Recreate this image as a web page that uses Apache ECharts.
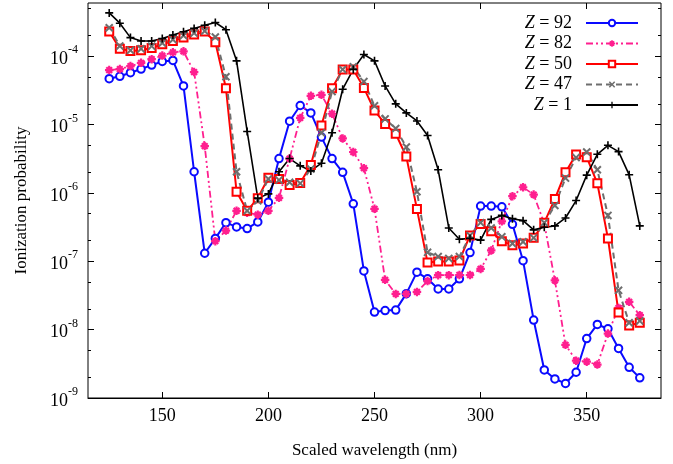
<!DOCTYPE html>
<html><head><meta charset="utf-8">
<script src="https://cdn.jsdelivr.net/npm/echarts@6/dist/echarts.min.js"></script>
<style>html,body{margin:0;padding:0;background:#fff}#c{width:673px;height:464px}</style>
</head><body><div id="c"></div>
<script>
const wavelengths = [125,130,135,140,145,150,155,160,165,170,175,180,185,190,195,200,205,210,215,220,225,230,235,240,245,250,255,260,265,270,275,280,285,290,295,300,305,310,315,320,325,330,335,340,345,350,355,360,365,370,375];
const z92 = [4.69e-5,5.08e-5,5.73e-5,6.49e-5,7.41e-5,8.38e-5,8.67e-5,3.67e-5,2.04e-6,1.31e-7,2.16e-7,3.67e-7,3.18e-7,3.01e-7,3.76e-7,7.33e-7,3.18e-6,1.12e-5,1.90e-5,1.48e-5,6.55e-6,3.18e-6,2.00e-6,6.93e-7,7.22e-8,1.81e-8,1.90e-8,1.93e-8,3.36e-8,6.93e-8,5.54e-8,3.93e-8,3.93e-8,5.54e-8,1.34e-7,6.41e-7,6.41e-7,6.27e-7,3.47e-7,1.02e-7,1.38e-8,2.57e-9,1.90e-9,1.63e-9,2.38e-9,7.41e-9,1.19e-8,1.03e-8,5.31e-9,2.81e-9,1.97e-9];
const z82 = [6.27e-5,6.49e-5,7.16e-5,8.00e-5,9.05e-5,1.02e-4,1.14e-4,1.18e-4,5.86e-5,4.85e-6,1.97e-7,2.81e-7,5.48e-7,5.13e-7,4.80e-7,5.48e-7,8.47e-7,3.18e-6,1.25e-5,2.63e-5,2.72e-5,1.44e-5,6.27e-6,3.97e-6,2.30e-6,5.86e-7,5.36e-8,3.33e-8,3.33e-8,3.56e-8,5.13e-8,6.27e-8,6.27e-8,6.3e-8,6.3e-8,7.73e-8,1.44e-7,3.84e-7,8.95e-7,1.21e-6,9.45e-7,3.56e-7,5.25e-8,6.0e-9,3.52e-9,3.40e-9,3.08e-9,8.75e-9,2.08e-8,2.55e-8,1.63e-8];
const z50 = [2.30e-4,1.29e-4,1.19e-4,1.22e-4,1.32e-4,1.49e-4,1.67e-4,1.87e-4,2.08e-4,2.30e-4,1.60e-4,3.40e-5,1.04e-6,5.48e-7,8.38e-7,1.67e-6,1.60e-6,1.31e-6,1.40e-6,2.57e-6,9.68e-6,3.40e-5,6.41e-5,6.41e-5,3.44e-5,1.60e-5,1.02e-5,7.33e-6,3.40e-6,5.80e-7,9.57e-8,9.9e-8,9.9e-8,1.03e-7,2.38e-7,3.52e-7,2.75e-7,1.97e-7,1.72e-7,1.82e-7,2.20e-7,3.67e-7,8.18e-7,2.00e-6,3.64e-6,3.33e-6,1.38e-6,2.16e-7,1.78e-8,1.15e-8,1.26e-8];
const z47 = [2.61e-4,1.41e-4,1.22e-4,1.28e-4,1.40e-4,1.56e-4,1.75e-4,2.00e-4,2.18e-4,2.33e-4,1.91e-4,5.01e-5,2.04e-6,5.48e-7,7.66e-7,1.60e-6,1.54e-6,1.43e-6,1.38e-6,2.23e-6,7.59e-6,3.04e-5,6.41e-5,7.00e-5,4.25e-5,1.88e-5,1.21e-5,8.75e-6,4.69e-6,1.04e-6,1.35e-7,1.17e-7,1.10e-7,1.17e-7,2.38e-7,3.67e-7,3.07e-7,2.28e-7,1.82e-7,1.93e-7,2.20e-7,3.67e-7,6.55e-7,1.65e-6,3.29e-6,3.97e-6,2.18e-6,4.69e-7,3.76e-8,1.26e-8,1.34e-8];
const z1 = [4.30e-4,3.04e-4,1.87e-4,1.67e-4,1.67e-4,1.81e-4,2.04e-4,2.28e-4,2.55e-4,2.84e-4,3.11e-4,2.44e-4,8.55e-5,7.93e-6,8.38e-7,9.68e-7,2.04e-6,3.18e-6,2.49e-6,2.10e-6,2.72e-6,7.59e-6,3.29e-5,6.41e-5,1.06e-4,8.55e-5,3.67e-5,2.01e-5,1.48e-5,1.13e-5,6.93e-6,2.18e-6,3.07e-7,2.10e-7,2.16e-7,2.04e-7,4.10e-7,4.69e-7,4.20e-7,3.93e-7,2.88e-7,3.14e-7,3.29e-7,4.30e-7,7.73e-7,1.82e-6,3.67e-6,4.97e-6,4.02e-6,1.84e-6,3.29e-7];
const seriesNames = ['Z = 92','Z = 82','Z = 50','Z = 47','Z = 1'];
const xTicks = [150,200,250,300,350];
const yMajor = [1e-9,1e-8,1e-7,1e-6,1e-5,1e-4];
const yMinor = [2e-9,5e-9,2e-8,5e-8,2e-7,5e-7,2e-6,5e-6,2e-5,5e-5,2e-4,5e-4];

const FONT = 'Liberation Serif';
const plusPath = 'path://M-1,-5H1V-1H5V1H1V5H-1V1H-5V-1H-1Z';
const crossPath = 'path://M2.83,-4.24L4.24,-2.83L1.41,0L4.24,2.83L2.83,4.24L0,1.41L-2.83,4.24L-4.24,2.83L-1.41,0L-4.24,-2.83L-2.83,-4.24L0,-1.41Z';
const starPath = 'path://M-1.3,-5H1.3V-1.3H5V1.3H1.3V5H-1.3V1.3H-5V-1.3H-1.3Z M2.5,-4.3L4.3,-2.5L1.8,0L4.3,2.5L2.5,4.3L0,1.8L-2.5,4.3L-4.3,2.5L-1.8,0L-4.3,-2.5L-2.5,-4.3L0,-1.8Z';

function pairs(arr){ return wavelengths.map((x,i)=>[x,arr[i]]); }

const chart = echarts.init(document.getElementById('c'), null, {renderer:'canvas'});
const yBase = {type:'log', logBase:10, min:1e-9, max:6e-4, splitLine:{show:false}, axisLine:{show:false}, axisLabel:{show:false}};
const xBase = {type:'value', min:115, max:385, splitLine:{show:false}, axisLabel:{show:false}};
chart.setOption({
  animation:false,
  backgroundColor:'#fff',
  grid:{left:88, right:12, top:3, bottom:64, show:true, borderColor:'#000', borderWidth:1},
  xAxis:[
    Object.assign({}, xBase, {position:'bottom',
      name:'Scaled wavelength (nm)', nameLocation:'middle', nameGap:44,
      nameTextStyle:{fontFamily:FONT, fontSize:17, color:'#000'},
      axisLine:{show:true, lineStyle:{color:'#000', width:1}},
      axisTick:{show:true, inside:true, length:6, customValues:xTicks, lineStyle:{color:'#000'}},
      axisLabel:{show:true, customValues:xTicks, margin:9, fontFamily:FONT, fontSize:18, color:'#000'}}),
    Object.assign({}, xBase, {position:'top',
      axisLine:{show:false},
      axisTick:{show:true, inside:true, length:6, customValues:xTicks, lineStyle:{color:'#000'}}})
  ],
  yAxis:[
    Object.assign({}, yBase, {position:'left',
      name:'Ionization probability', nameLocation:'middle', nameGap:58,
      nameTextStyle:{fontFamily:FONT, fontSize:17, color:'#000'},
      axisTick:{show:true, inside:true, length:6, customValues:yMajor, lineStyle:{color:'#000'}},
      axisLabel:{show:true, customValues:yMajor, margin:10, fontFamily:FONT, color:'#000',
        formatter:function(v){ const e=Math.round(Math.log10(v)); return '{b|10}{s|'+e+'}'; },
        rich:{b:{fontFamily:FONT, fontSize:18, color:'#000', verticalAlign:'bottom', lineHeight:24},
              s:{fontFamily:FONT, fontSize:12, color:'#000', verticalAlign:'top', lineHeight:22}}}}),
    Object.assign({}, yBase, {position:'left',
      axisTick:{show:true, inside:true, length:3, customValues:yMinor, lineStyle:{color:'#000'}}}),
    Object.assign({}, yBase, {position:'right',
      axisTick:{show:true, inside:true, length:6, customValues:yMajor, lineStyle:{color:'#000'}}}),
    Object.assign({}, yBase, {position:'right',
      axisTick:{show:true, inside:true, length:3, customValues:yMinor, lineStyle:{color:'#000'}}})
  ],
  legend:{
    orient:'vertical', right:29, top:9, align:'right', itemWidth:52, itemHeight:8, itemGap:2.5,
    textStyle:{fontFamily:FONT, fontSize:18, color:'#000', padding:[0,9,0,0],
      rich:{i:{fontFamily:FONT, fontSize:18, fontStyle:'italic', color:'#000', lineHeight:19}, r:{fontFamily:FONT, fontSize:18, color:'#000', lineHeight:19}}},
    formatter:function(n){ return '{i|Z}{r|'+n.slice(1)+'}'; },
    data:seriesNames
  },
  series:[
    {name:seriesNames[0], type:'line', data:pairs(z92), color:'#0a0aff',
      lineStyle:{width:2, color:'#0a0aff'}, symbol:'emptyCircle', symbolSize:7.5,
      itemStyle:{color:'#0a0aff', borderColor:'#0a0aff', borderWidth:1.6}},
    {name:seriesNames[1], type:'line', data:pairs(z82), color:'#ff1f8f',
      lineStyle:{width:1.8, color:'#ff1f8f', type:[7,3,2,3,2,3]}, symbol:starPath, symbolSize:8.5,
      itemStyle:{color:'#ff1f8f'}},
    {name:seriesNames[2], type:'line', data:pairs(z50), color:'#ff0000',
      lineStyle:{width:2, color:'#ff0000'}, symbol:'emptyRect', symbolSize:8,
      itemStyle:{color:'#ff0000', borderColor:'#ff0000', borderWidth:1.6}},
    {name:seriesNames[3], type:'line', data:pairs(z47), color:'#6e6e6e',
      lineStyle:{width:2, color:'#6e6e6e', type:[6,4]}, symbol:crossPath, symbolSize:8.5,
      itemStyle:{color:'#6e6e6e'}},
    {name:seriesNames[4], type:'line', data:pairs(z1), color:'#000000',
      lineStyle:{width:1.6, color:'#000'}, symbol:plusPath, symbolSize:8,
      itemStyle:{color:'#000'}}
  ]
});
</script></body></html>
